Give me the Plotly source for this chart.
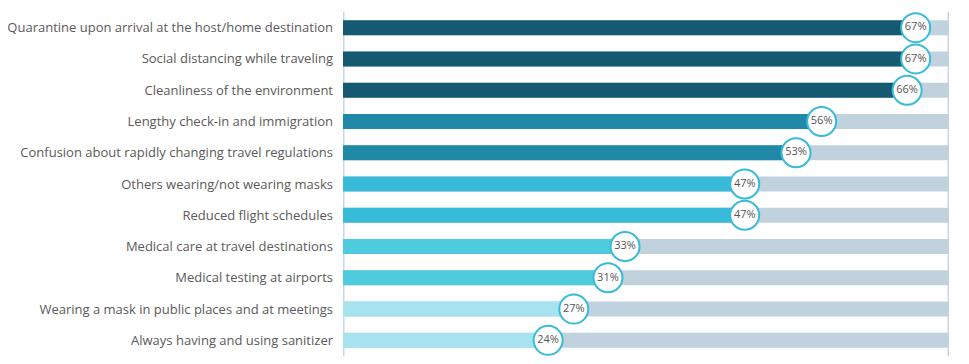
import plotly.graph_objects as go

categories = [
    "Quarantine upon arrival at the host/home destination",
    "Social distancing while traveling",
    "Cleanliness of the environment",
    "Lengthy check-in and immigration",
    "Confusion about rapidly changing travel regulations",
    "Others wearing/not wearing masks",
    "Reduced flight schedules",
    "Medical care at travel destinations",
    "Medical testing at airports",
    "Wearing a mask in public places and at meetings",
    "Always having and using sanitizer",
]
values = [67, 67, 66, 56, 53, 47, 47, 33, 31, 27, 24]
bar_colors = ["#165a72", "#165a72", "#165a72", "#2189a8", "#2189a8",
              "#38bbd8", "#38bbd8", "#4ecbdd", "#4ecbdd", "#a6e3ee", "#a6e3ee"]
axis_max = 70.9

fig = go.Figure()
fig.add_trace(go.Bar(
    y=categories, x=[axis_max] * len(categories), orientation="h",
    marker=dict(color="#bfd2de", line=dict(width=0)), width=0.48,
    hoverinfo="skip", showlegend=False,
))
fig.add_trace(go.Bar(
    y=categories, x=values, orientation="h",
    marker=dict(color=bar_colors, line=dict(width=0)), width=0.48,
    showlegend=False,
))
fig.add_trace(go.Scatter(
    y=categories, x=values, mode="markers+text",
    marker=dict(size=29, color="white", line=dict(color="#38bbd8", width=2)),
    text=[f"{v}%" for v in values], textposition="middle center",
    textfont=dict(family="Open Sans", size=11, color="#555555"),
    showlegend=False, cliponaxis=False,
))

fig.add_shape(type="line", xref="x", yref="paper", x0=0, x1=0, y0=0, y1=1,
              line=dict(color="#c8d7e1", width=3), layer="below")
fig.add_shape(type="line", xref="x", yref="paper", x0=axis_max, x1=axis_max, y0=0, y1=1,
              line=dict(color="#c8d7e1", width=3), layer="below")

fig.update_layout(
    width=961, height=356,
    margin=dict(l=335, r=20, t=4, b=8),
    barmode="overlay",
    plot_bgcolor="white", paper_bgcolor="white",
    xaxis=dict(range=[0, axis_max], visible=False, fixedrange=True),
    yaxis=dict(range=[len(categories) - 0.5, -0.5], showgrid=False, zeroline=False,
               showline=False, ticks="", ticklabelstandoff=9, fixedrange=True,
               automargin=False,
               tickfont=dict(family="Open Sans", size=13, color="#5a5a5a")),
    font=dict(family="Open Sans"),
)

fig.write_html("out.html")
